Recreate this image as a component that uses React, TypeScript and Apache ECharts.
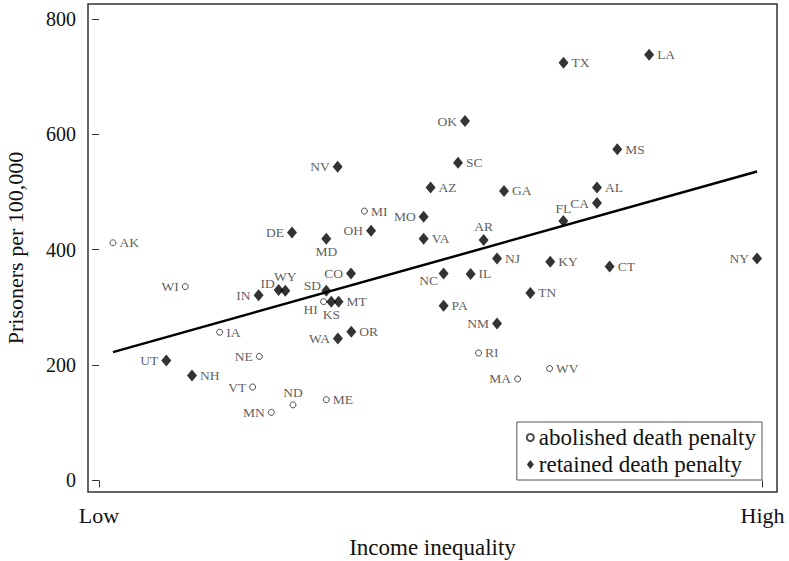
import React, { useEffect, useRef } from "react";
import * as echarts from "echarts";

// ---- data ----
const abolishedStates = ["AK", "WI", "MI", "HI", "IA", "NE", "RI", "WV", "MA", "VT", "ME", "ND", "MN"];
const abolishedInequality = [0.021, 0.13, 0.4, 0.3385, 0.1818, 0.2416, 0.572, 0.679, 0.6308, 0.2315, 0.3425, 0.2923, 0.2597];
const abolishedPrisoners = [412, 336, 467, 310, 257, 215, 221, 194, 176, 162, 140, 131, 118];

const retainedStates = [
  "TX", "LA", "OK", "MS", "SC", "NV", "AZ", "AL", "GA", "CA", "MO", "FL", "OH",
  "DE", "VA", "MD", "AR", "NJ", "NY", "KY", "CT", "CO", "NC", "IL", "ID", "WY",
  "SD", "TN", "IN", "KS", "MT", "PA", "NM", "OR", "WA", "UT", "NH",
];
const retainedInequality = [
  0.7, 0.829, 0.5515, 0.781, 0.541, 0.3596, 0.4997, 0.7504, 0.6103, 0.7504, 0.4892, 0.6997, 0.41,
  0.2908, 0.4892, 0.3425, 0.5796, 0.5998, 0.9916, 0.68, 0.7695, 0.3797, 0.5193, 0.56, 0.2707, 0.2807,
  0.3425, 0.65, 0.2405, 0.35, 0.361, 0.5193, 0.5998, 0.3802, 0.36, 0.1014, 0.1401,
];
const retainedPrisoners = [
  724, 738, 623, 574, 551, 544, 508, 508, 502, 481, 457, 450, 433,
  430, 419, 419, 417, 385, 385, 379, 371, 359, 359, 358, 330, 329,
  329, 325, 321, 310, 310, 303, 272, 258, 246, 208, 182,
];

const yTicks = [0, 200, 400, 600, 800];
const xTicks = [0, 1];
const xTickLabels = ["Low", "High"];
const seriesNames = ["abolished death penalty", "retained death penalty"];

// ---- label placement (style) ----
const labelPlacement: Record<string, string | number[]> = {
  AK: "right", WI: "left", MI: "right", HI: [-13, 8], IA: "right", NE: "left", RI: "right",
  WV: "right", MA: "left", VT: "left", ME: "right", ND: [0, -12], MN: "left",
  TX: "right", LA: "right", OK: "left", MS: "right", SC: "right", NV: "left", AZ: "right",
  AL: "right", GA: "right", CA: "left", MO: "left", FL: [0, -12], OH: "left", DE: "left",
  VA: "right", MD: [0, 13], AR: [0, -13], NJ: "right", NY: "left", KY: "right", CT: "right",
  CO: "left", NC: [-15, 7], IL: "right", ID: [-11, -7], WY: [0, -14], SD: [-14, -5],
  TN: "right", IN: "left", KS: [0, 13], MT: "right", PA: "right", NM: "left", OR: "right",
  WA: "left", UT: "left", NH: "right",
};

const FONT = '"Liberation Serif", "DejaVu Serif", serif';
const LABEL_COLOR = "#333";

function labelFor(state: string) {
  const p = labelPlacement[state] ?? "right";
  const base = { show: true, color: LABEL_COLOR, fontFamily: FONT, fontSize: 13.5, formatter: "{b}" };
  if (Array.isArray(p)) {
    return { ...base, position: "inside", offset: p, align: "center", verticalAlign: "middle" };
  }
  return { ...base, position: p, distance: 3 };
}

function points(states: string[], xs: number[], ys: number[]) {
  return states.map((s, i) => ({ name: s, value: [xs[i], ys[i]], label: labelFor(s) }));
}

function fitLine() {
  const xs = [...abolishedInequality, ...retainedInequality];
  const ys = [...abolishedPrisoners, ...retainedPrisoners];
  const n = xs.length;
  const mx = xs.reduce((a, b) => a + b, 0) / n;
  const my = ys.reduce((a, b) => a + b, 0) / n;
  let sxy = 0;
  let sxx = 0;
  for (let i = 0; i < n; i++) {
    sxy += (xs[i] - mx) * (ys[i] - my);
    sxx += (xs[i] - mx) * (xs[i] - mx);
  }
  const slope = sxy / sxx;
  const icpt = my - slope * mx;
  const x0 = Math.min(...xs);
  const x1 = Math.max(...xs);
  return [
    [x0, icpt + slope * x0],
    [x1, icpt + slope * x1],
  ];
}

export default function App() {
  const ref = useRef<HTMLDivElement>(null);
  useEffect(() => {
    if (!ref.current) return;
    const chart = echarts.init(ref.current, undefined, { renderer: "svg" });
    chart.setOption({
      animation: false,
      backgroundColor: "#fff",
      grid: {
        left: 88,
        top: 4,
        right: 12,
        bottom: 69,
        containLabel: false,
        outerBoundsMode: "none",
        show: true,
        borderColor: "#333",
        borderWidth: 1.5,
        backgroundColor: "transparent",
      },
      xAxis: {
        type: "value",
        min: -0.0166,
        max: 1.0217,
        offset: 1,
        axisLine: { show: false },
        splitLine: { show: false },
        axisTick: { show: true, length: 7, customValues: xTicks, lineStyle: { color: "#333" } },
        axisLabel: {
          customValues: xTicks,
          formatter: (v: number) => xTickLabels[xTicks.indexOf(v)] ?? "",
          fontFamily: FONT,
          fontSize: 22,
          color: "#111",
          margin: 11,
        },
        name: "Income inequality",
        nameLocation: "middle",
        nameGap: 43,
        nameTextStyle: { fontFamily: FONT, fontSize: 23, color: "#111" },
      },
      yAxis: {
        type: "value",
        min: -20,
        max: 826,
        offset: 10,
        axisLine: { show: false },
        splitLine: { show: false },
        axisTick: { show: true, length: 7, customValues: yTicks, lineStyle: { color: "#333" } },
        axisLabel: {
          customValues: yTicks,
          fontFamily: FONT,
          fontSize: 20,
          color: "#111",
          margin: 2,
        },
        name: "Prisoners per 100,000",
        nameLocation: "middle",
        nameGap: 52,
        nameTextStyle: { fontFamily: FONT, fontSize: 22, color: "#111" },
      },
      legend: {
        data: [
          { name: seriesNames[0], icon: "circle" },
          { name: seriesNames[1], icon: "diamond" },
        ],
        orient: "vertical",
        right: 27,
        bottom: 81,
        borderColor: "#555",
        borderWidth: 1,
        padding: [4, 6, 4, 9],
        itemGap: 4,
        itemWidth: 7,
        itemHeight: 9,
        backgroundColor: "#fff",
        textStyle: { fontFamily: FONT, fontSize: 23, color: "#111" },
      },
      series: [
        {
          type: "line",
          name: "fit",
          data: fitLine(),
          showSymbol: false,
          symbol: "none",
          lineStyle: { color: "#000", width: 2.5 },
          silent: true,
          z: 1,
        },
        {
          type: "scatter",
          name: seriesNames[0],
          symbol: "circle",
          symbolSize: 6,
          itemStyle: { color: "#fff", borderColor: "#222", borderWidth: 1 },
          data: points(abolishedStates, abolishedInequality, abolishedPrisoners),
          z: 3,
        },
        {
          type: "scatter",
          name: seriesNames[1],
          symbol: "diamond",
          symbolSize: [10, 12],
          itemStyle: { color: "#000" },
          data: points(retainedStates, retainedInequality, retainedPrisoners),
          z: 3,
        },
      ],
    });
    return () => chart.dispose();
  }, []);
  return (
    <div
      ref={ref}
      style={{ position: "fixed", left: 0, top: 0, width: 789, height: 561, background: "#fff" }}
    />
  );
}
